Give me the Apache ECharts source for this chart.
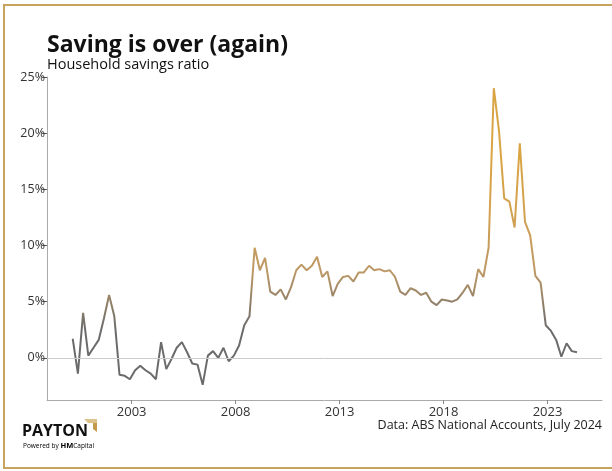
<!DOCTYPE html>
<html>
<head>
<meta charset="utf-8">
<script src="https://cdn.jsdelivr.net/npm/echarts@6/dist/echarts.min.js"></script>
<style>
html,body{margin:0;padding:0;background:#fff;}
#chart{width:612px;height:471px;}
</style>
</head>
<body>
<div id="chart"></div>
<script>
// Quarterly household savings ratio (%), Mar 2000 .. Jun 2024
var startYear = 2000;
var quarterMonths = [3, 6, 9, 12];
var savingsRatio = [
  1.7, -1.4, 4.0, 0.2, 0.9, 1.6, 3.5, 5.6,
  3.7, -1.5, -1.6, -1.9, -1.1, -0.7, -1.1, -1.4,
  -1.9, 1.4, -1.0, -0.1, 0.9, 1.4, 0.5, -0.5,
  -0.6, -2.4, 0.2, 0.6, 0.0, 0.9, -0.3, 0.2,
  1.1, 2.9, 3.7, 9.8, 7.8, 8.9, 5.9, 5.6,
  6.1, 5.2, 6.3, 7.8, 8.3, 7.8, 8.2, 9.0,
  7.2, 7.7, 5.5, 6.6, 7.2, 7.3, 6.8, 7.6,
  7.6, 8.2, 7.8, 7.9, 7.7, 7.8, 7.2, 5.9,
  5.6, 6.2, 6.0, 5.6, 5.8, 5.0, 4.7, 5.2,
  5.1, 5.0, 5.2, 5.8, 6.5, 5.5, 7.9, 7.2,
  9.8, 24.0, 20.2, 14.2, 13.9, 11.6, 19.1, 12.1,
  10.9, 7.3, 6.7, 2.9, 2.4, 1.6, 0.1, 1.3,
  0.6, 0.5
];
var yearTicks = [2003, 2008, 2013, 2018, 2023];
var pctTicks = [0, 5, 10, 15, 20, 25];

var lineData = savingsRatio.map(function (v, i) {
  var y = startYear + Math.floor(i / 4);
  var m = quarterMonths[i % 4];
  return [y + (m - 1) / 12, v];
});

var FONT = '"Open Sans", sans-serif';
var chart = echarts.init(document.getElementById('chart'), null, {renderer: 'canvas'});
chart.setOption({
  animation: false,
  backgroundColor: '#ffffff',
  title: [
    {text: 'Saving is over (again)', left: 47, top: 34, padding: 0,
     textStyle: {fontFamily: FONT, fontWeight: 'bold', fontSize: 23, color: '#111'}},
    {text: 'Household savings ratio', left: 47, top: 57, padding: 0,
     textStyle: {fontFamily: FONT, fontWeight: 'normal', fontSize: 14.5, color: '#111'}},
    {text: 'Data: ABS National Accounts, July 2024', right: 10, top: 419, padding: 0,
     textStyle: {fontFamily: FONT, fontWeight: 'normal', fontSize: 12.5, color: '#222'}}
  ],
  grid: {left: 47, right: 10, top: 77, bottom: 71, containLabel: false},
  xAxis: {
    type: 'value', min: 1998.93, max: 2025.62,
    axisLine: {show: true, onZero: false, lineStyle: {color: '#aaaaaa', width: 1}},
    axisTick: {show: true, length: 4, lineStyle: {color: '#888'}, customValues: yearTicks},
    axisLabel: {customValues: yearTicks, margin: 6, fontFamily: FONT, fontSize: 13, color: '#333',
      formatter: function (v) { return String(Math.round(v)); }},
    splitLine: {show: false}
  },
  yAxis: {
    type: 'value', min: -3.75, max: 25,
    axisLine: {show: true, onZero: false, lineStyle: {color: '#aaaaaa', width: 1}},
    axisTick: {show: true, length: 5, lineStyle: {color: '#555'}, customValues: pctTicks},
    axisLabel: {customValues: pctTicks, margin: 2, fontFamily: FONT, fontSize: 12.5, color: '#333',
      formatter: function (v) { return Math.round(v) + '%'; }},
    splitLine: {show: false}
  },
  visualMap: {
    show: false, type: 'continuous', seriesIndex: 0, dimension: 1,
    min: 2.5, max: 18,
    inRange: {color: ['#6b6b6b', '#bc9866', '#d3a150', '#d9a443']}
  },
  series: [
    {type: 'line', data: lineData, symbol: 'none', z: 3,
     lineStyle: {width: 2}},
    {type: 'line', data: [], z: 2,
     markLine: {silent: true, symbol: 'none', label: {show: false},
       lineStyle: {color: '#cccccc', width: 1, type: 'solid'},
       data: [{yAxis: 0}]}}
  ],
  graphic: [
    {type: 'rect', shape: {x: 4, y: 5, width: 640, height: 463},
     style: {fill: 'none', stroke: '#c8a35e', lineWidth: 2}, silent: true},
    {type: 'text', left: 22, top: 423,
     style: {text: 'PAYTON', font: 'bold 16px "Open Sans", sans-serif', fill: '#111'}},
    {type: 'polygon', shape: {points: [[84, 419], [97, 419], [97, 423], [88, 423]]},
     style: {fill: '#dcc38e'}},
    {type: 'polygon', shape: {points: [[93, 423], [97, 423], [97, 432], [93, 429]]},
     style: {fill: '#c39a4c'}},
    {type: 'text', left: 23, top: 442,
     style: {
       text: '{a|Powered by }{b|HM}{c|Capital}',
       rich: {
         a: {fontFamily: FONT, fontSize: 6.5, color: '#555'},
         b: {fontFamily: FONT, fontSize: 7.5, fontWeight: 'bold', color: '#111'},
         c: {fontFamily: FONT, fontSize: 6.5, color: '#c8a35e'}
       }
     }}
  ]
});
</script>
</body>
</html>
